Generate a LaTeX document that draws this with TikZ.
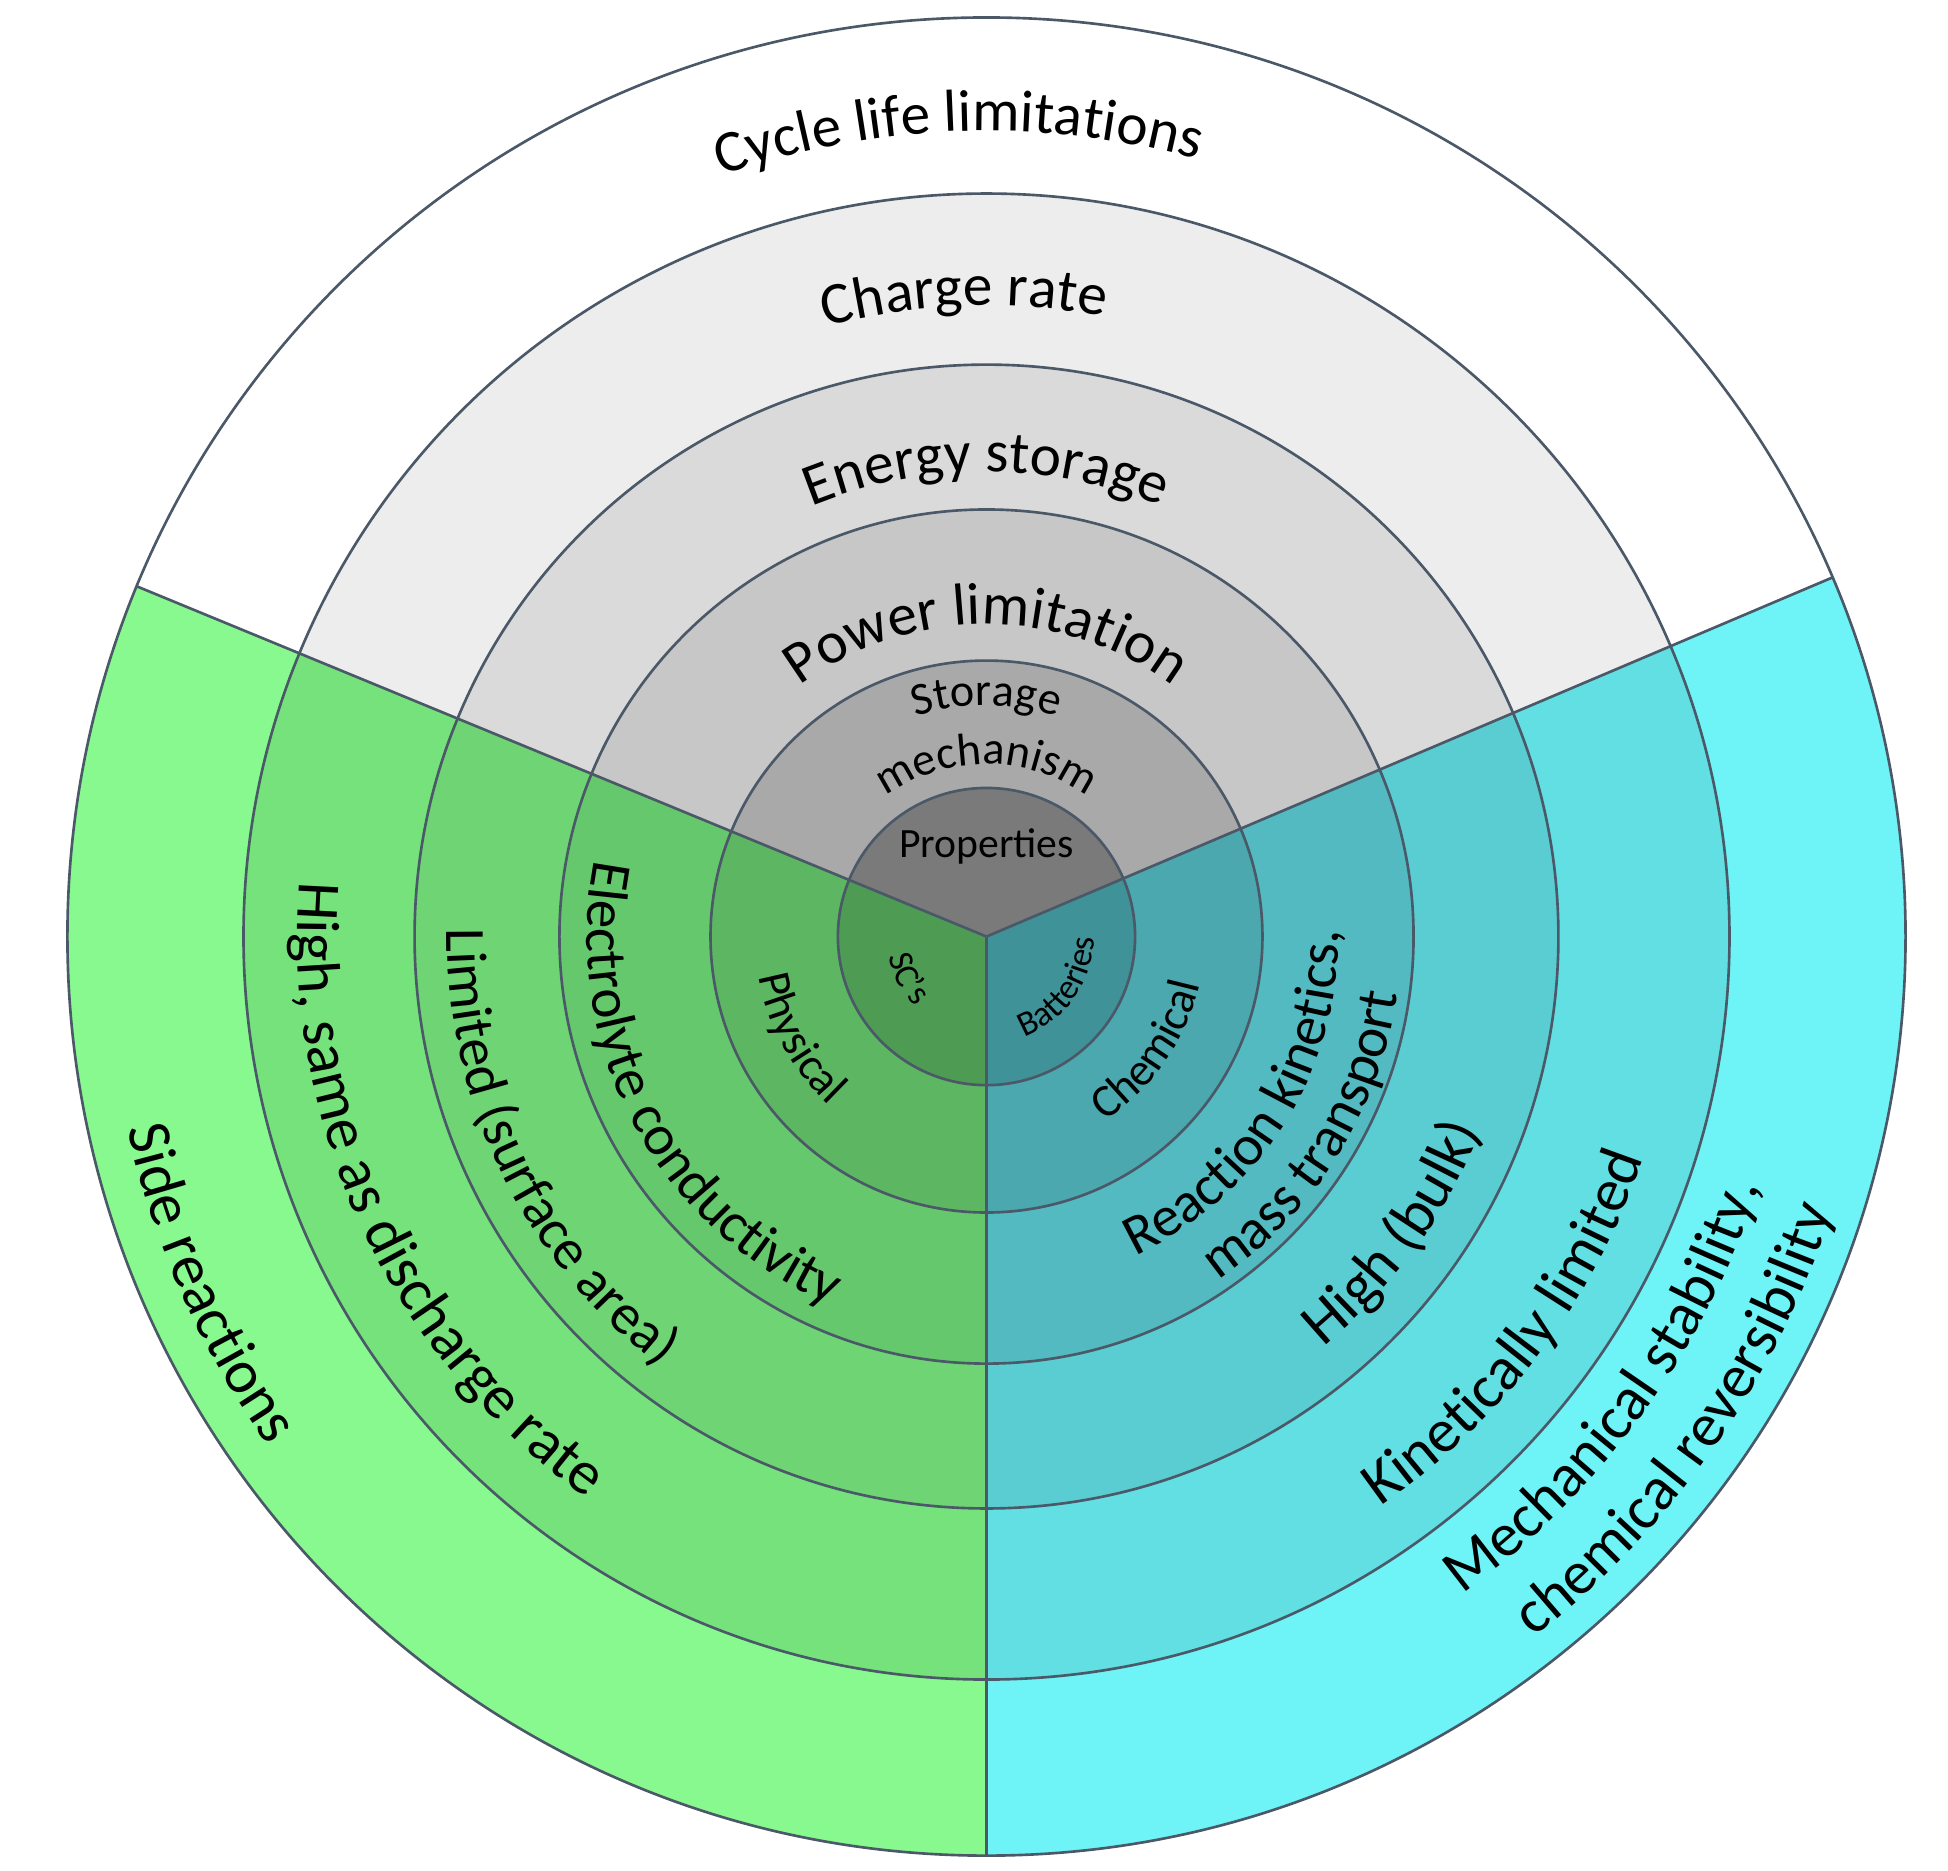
\documentclass[tikz,border=0pt]{standalone}
\usepackage{fontspec}
\setmainfont{Carlito}
\usetikzlibrary{decorations.text}

\definecolor{ringline}{HTML}{4A5868}
\tikzset{
  ring/.style={draw=ringline, line width=0.6pt},
}
% \curvetext{radius}{start}{end}{font size}{text}
\newcommand{\curvetext}[5]{%
  \path[decorate, decoration={text along path, text align=center,
    text={|\fontsize{#4}{#4}\selectfont|#5}}]
    (#2:#1) arc[start angle=#2, end angle=#3, radius=#1];}

\begin{document}
\begin{tikzpicture}
\useasboundingbox (-7.9,-7.48) rectangle (7.7,7.5);
% sectors, outer ring first
\foreach \r/\top/\grn/\cyn in {7.36/FFFFFF/88F98E/6EF3F6, 5.95/EDEDED/76E27C/62DFE3,
                               4.58/DADADA/6ED474/5ACDD2, 3.42/C7C7C7/66C86C/52BAC0,
                               2.21/A9A9A9/5CB662/4AA8AE, 1.19/7A7A7A/4E9B54/3F9297}{
  \definecolor{topc}{HTML}{\top}
  \definecolor{grnc}{HTML}{\grn}
  \definecolor{cync}{HTML}{\cyn}
  \fill[topc] (0,0) -- (23:\r) arc[start angle=23, end angle=157.6, radius=\r] -- cycle;
  \fill[grnc] (0,0) -- (157.6:\r) arc[start angle=157.6, end angle=270, radius=\r] -- cycle;
  \fill[cync] (0,0) -- (-90:\r) arc[start angle=-90, end angle=23, radius=\r] -- cycle;
  \draw[ring] (0,0) circle[radius=\r];
}
\foreach \a in {23,157.6,270}
  \draw[ring] (0,0) -- (\a:7.36);

% top labels
\curvetext{6.45}{162}{22}{13.5pt}{Cycle life limitations}
\curvetext{5.05}{162}{22}{13.5pt}{Charge rate}
\curvetext{3.72}{165}{15}{13.5pt}{Energy storage}
\curvetext{2.50}{170}{10}{13.5pt}{Power limitation}
\curvetext{1.85}{170}{10}{10.5pt}{Storage}
\curvetext{1.38}{175}{5}{10.5pt}{mechanism}
\node[font=\fontsize{9.5pt}{9.5pt}\selectfont] (props) at (0,0.72) {Properties};

% supercapacitor side
\curvetext{0.80}{138}{278}{8pt}{SC's}
\curvetext{1.85}{146}{271}{10.5pt}{Physical}
\curvetext{3.20}{135}{281}{13pt}{Electrolyte conductivity}
\curvetext{4.32}{140}{272}{13pt}{Limited (surface area)}
\curvetext{5.52}{140}{270}{14pt}{High, same as discharge rate}
\curvetext{7.05}{145}{263}{14pt}{Side reactions}

% battery side
\curvetext{0.86}{-100}{30}{8pt}{Batteries}
\curvetext{1.75}{-100}{30}{10.5pt}{Chemical}
\curvetext{2.82}{-100}{36}{13pt}{Reaction kinetics,}
\curvetext{3.32}{-100}{36}{13pt}{mass transport}
\curvetext{4.25}{-100}{28}{14pt}{High (bulk)}
\curvetext{5.55}{-100}{26}{14pt}{Kinetically limited}
\curvetext{6.50}{-100}{28}{14pt}{Mechanical stability,}
\curvetext{7.12}{-100}{30}{14pt}{chemical reversibility}
\end{tikzpicture}
\end{document}
